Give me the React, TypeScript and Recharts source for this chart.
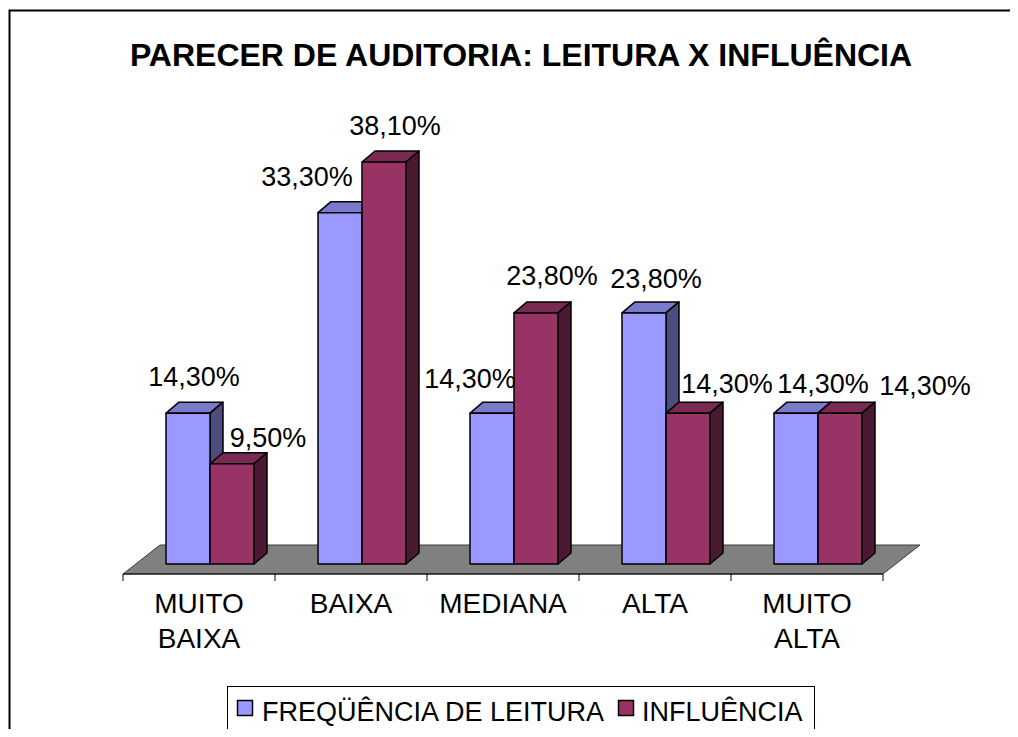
import { BarChart, Bar, XAxis, YAxis, LabelList } from 'recharts'

const categories = ['MUITO BAIXA', 'BAIXA', 'MEDIANA', 'ALTA', 'MUITO ALTA']
const leitura = [14.3, 33.3, 14.3, 23.8, 14.3]
const influencia = [9.5, 38.1, 23.8, 14.3, 14.3]
const seriesNames = ['FREQÜÊNCIA DE LEITURA', 'INFLUÊNCIA']
const yDomain = [0, 40]

// label nudges [dx, dy] from the top-centre of the front face (Excel 3D placement)
const leituraLabelNudge = [[6, -37], [-33, -37], [-22, -35], [12, -35], [27, -30]]
const influenciaLabelNudge = [[36, -27], [11, -37], [16, -38], [39, -30], [85, -28]]

const data = categories.map((cat, i) => ({
  cat,
  leitura: leitura[i],
  influencia: influencia[i],
}))

const W = 1018
const H = 737
const MARGIN = { top: 142, right: 124, bottom: 143, left: 134 }
const X_AXIS_H = 30
const PLOT_LEFT = MARGIN.left
const PLOT_RIGHT = W - MARGIN.right
const PLOT_BOTTOM = H - MARGIN.bottom - X_AXIS_H

// 3D depth of the bars and floor
const DEPTH_X = 13
const DEPTH_Y = 11
const FLOOR_FRONT = { dx: -11, dy: 10 }
const FLOOR_BACK = { dx: 26, dy: -19 }

const FONT = "'Liberation Sans', Arial, sans-serif"
const BLUE = { front: '#9999FF', top: '#7A7ACC', side: '#4C4C80' }
const RED = { front: '#993366', top: '#7A2952', side: '#4C1933' }

const fmt = (v: number) => v.toFixed(2).replace('.', ',') + '%'

const Box3D = (props: any) => {
  const { x, y, width: w, height: h, colors } = props
  if (w == null || h == null) return null
  return (
    <g stroke="#000" strokeWidth={1.5} strokeLinejoin="round">
      <polygon
        points={`${x},${y} ${x + DEPTH_X},${y - DEPTH_Y} ${x + w + DEPTH_X},${y - DEPTH_Y} ${x + w},${y}`}
        fill={colors.top}
      />
      <polygon
        points={`${x + w},${y} ${x + w + DEPTH_X},${y - DEPTH_Y} ${x + w + DEPTH_X},${y + h - DEPTH_Y} ${x + w},${y + h}`}
        fill={colors.side}
      />
      <rect x={x} y={y} width={w} height={h} fill={colors.front} />
    </g>
  )
}

const DataLabel = (props: any) => {
  const { x, y, width, value, index, nudge } = props
  const [dx, dy] = nudge[index] || [0, -35]
  return (
    <text
      x={x + width / 2 + dx}
      y={y + dy + 10}
      textAnchor="middle"
      fontFamily={FONT}
      fontSize={27}
      fill="#000"
    >
      {fmt(value)}
    </text>
  )
}

const CategoryTick = (props: any) => {
  const { x, y, payload } = props
  const words = String(payload.value).split(' ')
  const cx = x + FLOOR_FRONT.dx
  return (
    <text x={cx} y={y} textAnchor="middle" fontFamily={FONT} fontSize={28} fill="#000">
      {words.map((w, i) => (
        <tspan key={i} x={cx} dy={i === 0 ? 49 : 35}>
          {w}
        </tspan>
      ))}
    </text>
  )
}

const Floor = () => {
  const fy = PLOT_BOTTOM + FLOOR_FRONT.dy
  const by = PLOT_BOTTOM + FLOOR_BACK.dy
  const fl = PLOT_LEFT + FLOOR_FRONT.dx
  const fr = PLOT_RIGHT + FLOOR_FRONT.dx
  const step = (PLOT_RIGHT - PLOT_LEFT) / categories.length
  return (
    <g>
      <polygon
        points={`${fl},${fy} ${PLOT_LEFT + FLOOR_BACK.dx},${by} ${PLOT_RIGHT + FLOOR_BACK.dx},${by} ${fr},${fy}`}
        fill="#808080"
        stroke="#3a3a3a"
        strokeWidth={1}
      />
      <line x1={fl} y1={fy} x2={fr} y2={fy} stroke="#000" strokeWidth={1} />
      {categories.concat(['']).map((_, i) => (
        <line key={i} x1={fl + i * step} y1={fy} x2={fl + i * step} y2={fy + 7} stroke="#000" strokeWidth={1} />
      ))}
    </g>
  )
}

const Frame = () => (
  <g>
    <path d={`M9.5 ${H} V10.5 H${W}`} fill="none" stroke="#000" strokeWidth={2} />
    <text
      x={521}
      y={66}
      textAnchor="middle"
      fontFamily={FONT}
      fontWeight="bold"
      fontSize={32}
      fill="#000"
    >
      PARECER DE AUDITORIA: LEITURA X INFLUÊNCIA
    </text>
  </g>
)

const LegendBox = () => {
  const items = [
    { name: seriesNames[0], color: BLUE.front, sx: 237, tx: 262 },
    { name: seriesNames[1], color: RED.front, sx: 618, tx: 642 },
  ]
  return (
    <g>
      <rect x={227.5} y={686.5} width={587} height={80} fill="#fff" stroke="#000" strokeWidth={1} />
      {items.map((it) => (
        <g key={it.name}>
          <rect x={it.sx + 0.5} y={700.5} width={15} height={15} fill={it.color} stroke="#000" strokeWidth={1.5} />
          <text x={it.tx} y={721} fontFamily={FONT} fontSize={27} fill="#000">
            {it.name}
          </text>
        </g>
      ))}
    </g>
  )
}

export default function App() {
  return (
    <div style={{ margin: -8, width: W, height: H, overflow: 'hidden', background: '#fff' }}>
      <BarChart width={W} height={H} data={data} margin={MARGIN} barGap={0} barSize={44}>
        <Frame />
        <Floor />
        <LegendBox />
        <XAxis
          dataKey="cat"
          height={X_AXIS_H}
          axisLine={false}
          tickLine={false}
          tickSize={0}
          tickMargin={0}
          interval={0}
          tick={<CategoryTick />}
        />
        <YAxis hide domain={yDomain} />
        <Bar
          dataKey="leitura"
          name={seriesNames[0]}
          fill={BLUE.front}
          isAnimationActive={false}
          shape={(p: any) => <Box3D {...p} colors={BLUE} />}
        >
          <LabelList dataKey="leitura" content={(p: any) => <DataLabel {...p} nudge={leituraLabelNudge} />} />
        </Bar>
        <Bar
          dataKey="influencia"
          name={seriesNames[1]}
          fill={RED.front}
          isAnimationActive={false}
          shape={(p: any) => <Box3D {...p} colors={RED} />}
        >
          <LabelList dataKey="influencia" content={(p: any) => <DataLabel {...p} nudge={influenciaLabelNudge} />} />
        </Bar>
      </BarChart>
    </div>
  )
}
